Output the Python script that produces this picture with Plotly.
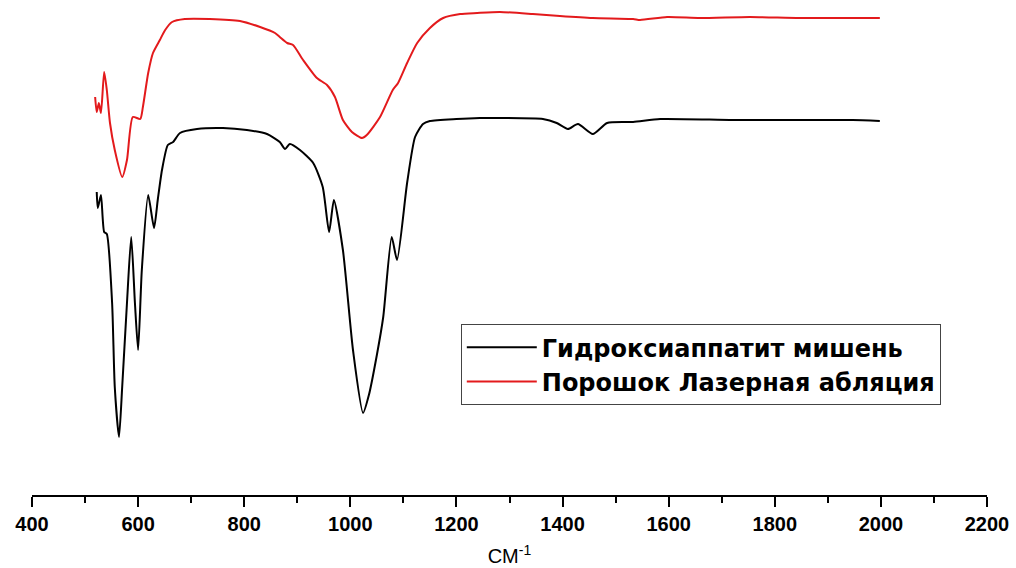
import plotly.graph_objects as go

# Wavenumber (cm^-1) and relative transmittance (arbitrary units)
hap_x = [522, 524, 530, 536, 541, 551, 556, 564, 570, 579, 587, 594, 600, 607, 619, 630,
         637, 645, 656, 666, 679, 711, 760, 805, 843, 867, 877, 886, 905, 930, 948, 960,
         969, 986, 1005, 1024, 1035, 1050, 1062, 1078, 1088, 1107, 1122, 1137, 1150, 1200, 1244,
         1282, 1363, 1389, 1410, 1429, 1457, 1484, 1533, 1584, 1721, 1847, 1947, 1998]
hap_y = [303, 287, 300, 263, 261, 192, 108, 58, 108, 192, 258, 192, 145, 225, 300, 267,
         295, 325, 350, 353, 362, 366, 367, 365, 361, 353, 346, 351, 345, 332, 308, 263,
         295, 245, 145, 82, 100, 140, 178, 258, 235, 312, 358, 371, 374, 376, 377,
         377, 376, 372, 366, 371, 361, 372, 373, 376, 375, 375, 375, 374]

abl_x = [519, 522, 526, 530, 536, 541, 547, 556, 570, 579, 590, 604, 609, 619, 628, 641,
         651, 664, 688, 735, 792, 830, 858, 867, 881, 892, 911, 937, 956, 971, 986, 1003,
         1022, 1031, 1056, 1080, 1090, 1107, 1126, 1150, 1175, 1207, 1239, 1282, 1344, 1395,
         1457, 1533, 1546, 1597, 1659, 1753, 1847, 1998]
abl_y = [398, 383, 392, 382, 423, 405, 372, 345, 318, 335, 378, 376, 388, 422, 442, 455,
         465, 473, 476, 476, 474, 468, 462, 458, 452, 450, 435, 417, 410, 398, 375, 363,
         357, 360, 378, 405, 412, 432, 452, 467, 477, 481, 482, 483, 481, 479,
         477, 476, 475, 478, 477, 478, 477, 477]

names = ["Гидроксиаппатит мишень", "Порошок Лазерная абляция"]
colors = ["#000000", "#e31a1c"]

x_ticks = [400, 600, 800, 1000, 1200, 1400, 1600, 1800, 2000, 2200]

fig = go.Figure()
fig.add_trace(go.Scatter(x=hap_x, y=hap_y, mode="lines", name=names[0],
                         line=dict(color=colors[0], width=2, shape="spline", smoothing=0.6)))
fig.add_trace(go.Scatter(x=abl_x, y=abl_y, mode="lines", name=names[1],
                         line=dict(color=colors[1], width=2, shape="spline", smoothing=0.6)))

fig.update_layout(
    width=1016, height=568,
    margin=dict(l=32, r=29, t=0, b=73),
    paper_bgcolor="white", plot_bgcolor="white",
    font=dict(family="Liberation Sans, Arial, sans-serif", color="black"),
    showlegend=True,
    legend=dict(
        x=0.449, y=0.345, xanchor="left", yanchor="top",
        bordercolor="#444444", borderwidth=1, bgcolor="white",
        font=dict(size=24, family="DejaVu Sans, sans-serif", weight="bold"),
        itemwidth=70, tracegroupgap=0,
    ),
    xaxis=dict(
        range=[400, 2200], tickvals=x_ticks, ticktext=[str(v) for v in x_ticks],
        showgrid=False, zeroline=False, showline=True, linecolor="black", linewidth=2,
        ticks="outside", ticklen=10, tickwidth=2, tickcolor="black",
        minor=dict(dtick=100, ticks="outside", ticklen=6, tickwidth=2, tickcolor="black"),
        tickfont=dict(size=20, weight="bold"),
        title=dict(text="СМ<sup>-1</sup>", font=dict(size=20), standoff=15),
    ),
    yaxis=dict(range=[0, 495], visible=False, showgrid=False, zeroline=False),
)

fig.write_html("out.html")
